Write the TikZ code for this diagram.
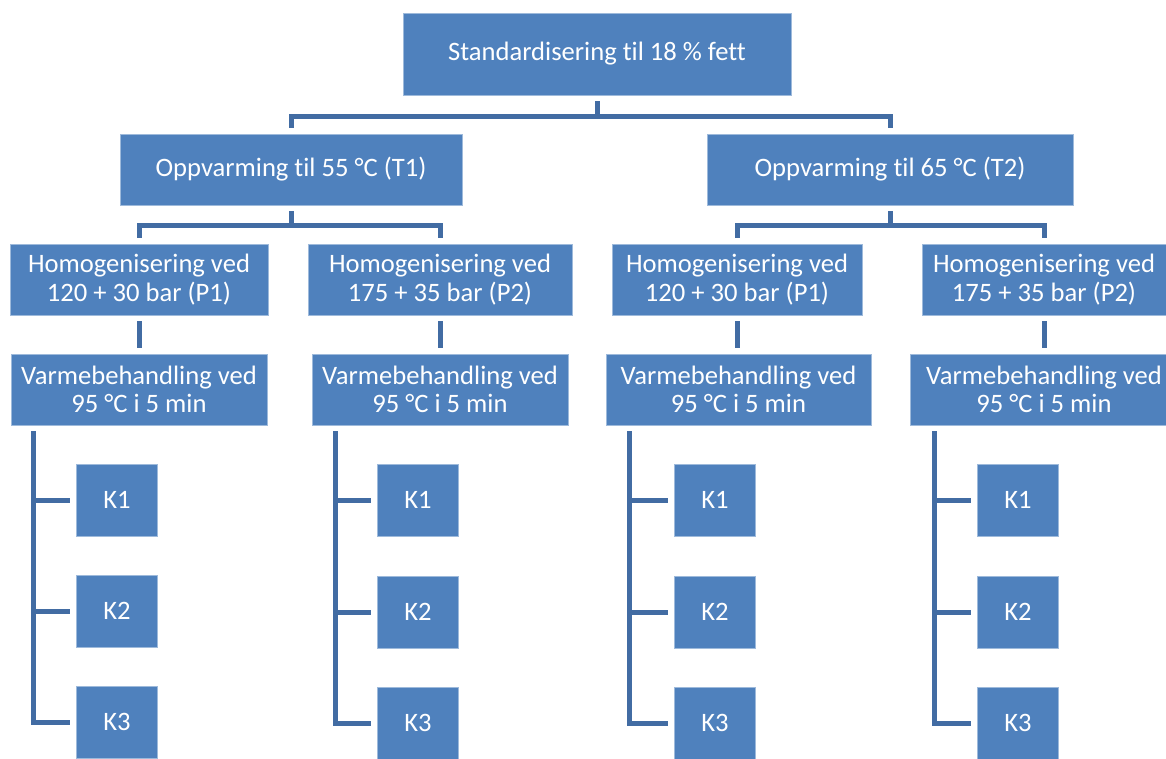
\documentclass[tikz,border=0pt]{standalone}
\usepackage{fontspec}
\setmainfont{Carlito}[Ligatures=NoCommon]
\definecolor{boxblue}{RGB}{79,129,189}
\definecolor{lineblue}{RGB}{66,108,163}

\begin{document}
\begin{tikzpicture}[x=1pt, y=-1pt,
    box/.style={fill=boxblue, draw=boxblue!55!white, line width=.8, text=white,
      align=center, inner sep=0, font=\fontsize{26.6}{28.5}\selectfont},
    kbox/.style={box, minimum width=81, minimum height=72},
    link/.style={draw=lineblue, line width=5, shorten <=6, shorten >=6}]
    \useasboundingbox (0,0) rectangle (1166,758);

    % top level
    \node[box, minimum width=388, minimum height=82] (fat) at (597,54) {Standardisering til 18 \% fett};
    \node[box, minimum width=342, minimum height=71] (t1) at (291,169.5) {Oppvarming til 55 °C (T1)};
    \node[box, minimum width=366, minimum height=71] (t2) at (890,169.5) {Oppvarming til 65 °C (T2)};

    \draw[link] (fat.south) -- ++(0,21) -| (t1.north);
    \draw[link] (fat.south) -- ++(0,21) -| (t2.north);

    % homogenisering
    \node[box, minimum width=258, minimum height=71] (h11) at (139,279.5) {Homogenisering ved\\120 + 30 bar (P1)};
    \node[box, minimum width=264, minimum height=71] (h12) at (440,279.5) {Homogenisering ved\\175 + 35 bar (P2)};
    \node[box, minimum width=250, minimum height=71] (h21) at (737,279.5) {Homogenisering ved\\120 + 30 bar (P1)};
    \node[box, minimum width=244, minimum height=71] (h22) at (1044,279.5) {Homogenisering ved\\175 + 35 bar (P2)};

    \draw[link] (t1.south) -- ++(0,20) -| (h11.north);
    \draw[link] (t1.south) -- ++(0,20) -| (h12.north);
    \draw[link] (t2.south) -- ++(0,20) -| (h21.north);
    \draw[link] (t2.south) -- ++(0,20) -| (h22.north);

    % varmebehandling
    \node[box, minimum width=256, minimum height=71] (v11) at (139,389.5) {Varmebehandling ved\\95 °C i 5 min};
    \node[box, minimum width=256, minimum height=71] (v12) at (440,389.5) {Varmebehandling ved\\95 °C i 5 min};
    \node[box, minimum width=265, minimum height=71] (v21) at (738.5,389.5) {Varmebehandling ved\\95 °C i 5 min};
    \node[box, minimum width=268, minimum height=71] (v22) at (1044,389.5) {Varmebehandling ved\\95 °C i 5 min};

    \draw[link] (h11.south) -- (h11.south |- v11.north);
    \draw[link] (h12.south) -- (h12.south |- v12.north);
    \draw[link] (h21.south) -- (h21.south |- v21.north);
    \draw[link] (h22.south) -- (h22.south |- v22.north);

    % kategorier
    \node[kbox] (k11) at (117,500) {K1};
    \node[kbox] (k12) at (117,611) {K2};
    \node[kbox] (k13) at (117,722) {K3};
    \node[kbox] (k21) at (418,500) {K1};
    \node[kbox] (k22) at (418,612) {K2};
    \node[kbox] (k23) at (418,723) {K3};
    \node[kbox] (k31) at (715,500) {K1};
    \node[kbox] (k32) at (715,612) {K2};
    \node[kbox] (k33) at (715,723) {K3};
    \node[kbox] (k41) at (1018,500) {K1};
    \node[kbox] (k42) at (1018,612) {K2};
    \node[kbox] (k43) at (1018,723) {K3};

    \draw[link] ([xshift=23]v11.south west) |- (k11.west);
    \draw[link] ([xshift=23]v11.south west) |- (k12.west);
    \draw[link] ([xshift=23]v11.south west) |- (k13.west);
    \draw[link] ([xshift=24]v12.south west) |- (k21.west);
    \draw[link] ([xshift=24]v12.south west) |- (k22.west);
    \draw[link] ([xshift=24]v12.south west) |- (k23.west);
    \draw[link] ([xshift=24]v21.south west) |- (k31.west);
    \draw[link] ([xshift=24]v21.south west) |- (k32.west);
    \draw[link] ([xshift=24]v21.south west) |- (k33.west);
    \draw[link] ([xshift=25]v22.south west) |- (k41.west);
    \draw[link] ([xshift=25]v22.south west) |- (k42.west);
    \draw[link] ([xshift=25]v22.south west) |- (k43.west);
\end{tikzpicture}
\end{document}
